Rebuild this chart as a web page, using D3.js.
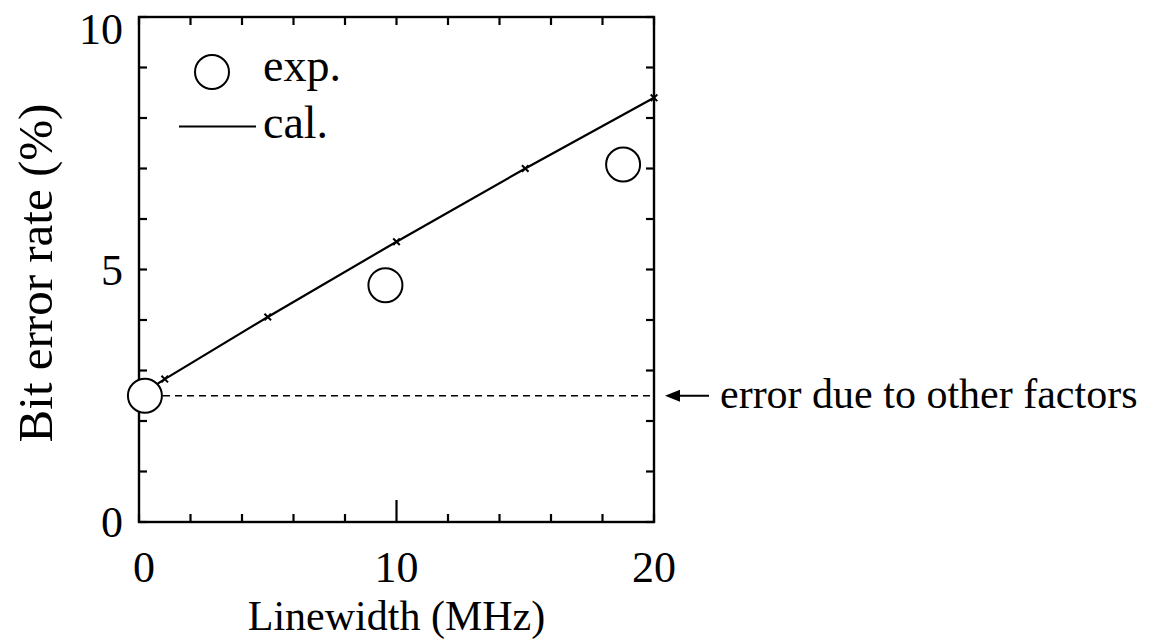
<!DOCTYPE html>
<html>
<head>
<meta charset="utf-8">
<script src="https://cdn.jsdelivr.net/npm/d3@7"></script>
<style>
  html, body { margin: 0; padding: 0; background: #fff; }
  svg { display: block; }
  text { font-family: "Liberation Serif", "Times New Roman", serif; fill: #000; }
</style>
</head>
<body>
<svg id="chart" width="1149" height="639"></svg>
<script>
// Measured bit error rate (%) vs. laser linewidth (MHz)
const expLinewidth = [0.23, 9.57, 18.8];
const expBER = [2.5, 4.69, 7.08];

// Calculated curve
const calLinewidth = [0, 1, 5, 10, 15, 20];
const calBER = [2.5, 2.83, 4.06, 5.55, 7.0, 8.4];

// Floor from error sources other than linewidth
const otherFactorsBER = 2.5;

const xTickLabels = [0, 10, 20];
const yTickLabels = [0, 5, 10];

const svg = d3.select("#chart");
const plotLeft = 139, plotRight = 654, plotTop = 17, plotBottom = 522;

const x = d3.scaleLinear().domain([0, 20]).range([plotLeft, plotRight]);
const y = d3.scaleLinear().domain([0, 10]).range([plotBottom, plotTop]);

// Inward ticks on all four sides
const minorLen = 8;
const frame = svg.append("g");

const xMinor = d3.range(0, 21, 2);
const yMinor = d3.range(0, 11, 1);

frame.selectAll(".xb").data(xMinor).join("line")
  .attr("x1", d => x(d)).attr("x2", d => x(d))
  .attr("y1", plotBottom).attr("y2", d => plotBottom - (d === 10 ? 22 : minorLen))
  .attr("stroke", "#000").attr("stroke-width", 2.2);
frame.selectAll(".xt").data(xMinor).join("line")
  .attr("x1", d => x(d)).attr("x2", d => x(d))
  .attr("y1", plotTop).attr("y2", plotTop + minorLen)
  .attr("stroke", "#000").attr("stroke-width", 2.2);
frame.selectAll(".yl").data(yMinor).join("line")
  .attr("x1", plotLeft).attr("x2", plotLeft + minorLen)
  .attr("y1", d => y(d)).attr("y2", d => y(d))
  .attr("stroke", "#000").attr("stroke-width", 2.2);
frame.selectAll(".yr").data(yMinor).join("line")
  .attr("x1", plotRight).attr("x2", plotRight - minorLen)
  .attr("y1", d => y(d)).attr("y2", d => y(d))
  .attr("stroke", "#000").attr("stroke-width", 2.2);

frame.append("rect")
  .attr("x", plotLeft).attr("y", plotTop)
  .attr("width", plotRight - plotLeft).attr("height", plotBottom - plotTop)
  .attr("fill", "none").attr("stroke", "#000").attr("stroke-width", 2.4);

// Tick labels
svg.selectAll(".xlab").data(xTickLabels).join("text")
  .attr("x", d => x(d) + (d === 0 ? 5 : 0)).attr("y", 582)
  .attr("text-anchor", "middle")
  .attr("font-size", 44)
  .text(d => d);
svg.selectAll(".ylab").data(yTickLabels).join("text")
  .attr("x", plotLeft - 16).attr("y", d => Math.max(y(d) + 15, 44))
  .attr("text-anchor", "end")
  .attr("font-size", 44)
  .text(d => d);

// Axis titles
svg.append("text")
  .attr("x", x(10)).attr("y", 630)
  .attr("text-anchor", "middle")
  .attr("font-size", 42)
  .text("Linewidth (MHz)");
svg.append("text")
  .attr("transform", "translate(52, 273) rotate(-90)")
  .attr("text-anchor", "middle")
  .attr("font-size", 49)
  .text("Bit error rate (%)");

// Dashed floor line
svg.append("line")
  .attr("x1", x(0)).attr("x2", x(20))
  .attr("y1", y(otherFactorsBER)).attr("y2", y(otherFactorsBER))
  .attr("stroke", "#000").attr("stroke-width", 1.6)
  .attr("stroke-dasharray", "7,5");

// Calculated curve
const calData = calLinewidth.map((v, i) => [v, calBER[i]]);
svg.append("path")
  .datum(calData)
  .attr("d", d3.line().x(d => x(d[0])).y(d => y(d[1])))
  .attr("fill", "none").attr("stroke", "#000").attr("stroke-width", 2.2);
svg.selectAll(".calpt").data(calData.slice(1)).join("path")
  .attr("transform", d => `translate(${x(d[0])},${y(d[1])})`)
  .attr("d", d3.symbol(d3.symbolTimes, 30)())
  .attr("fill", "none").attr("stroke", "#000").attr("stroke-width", 2);

// Measured points
const expData = expLinewidth.map((v, i) => [v, expBER[i]]);
svg.selectAll(".exppt").data(expData).join("circle")
  .attr("cx", d => x(d[0])).attr("cy", d => y(d[1]))
  .attr("r", 17)
  .attr("fill", "#fff").attr("stroke", "#000").attr("stroke-width", 2);

// Legend
svg.append("circle")
  .attr("cx", 212).attr("cy", 72).attr("r", 17)
  .attr("fill", "#fff").attr("stroke", "#000").attr("stroke-width", 2);
svg.append("text")
  .attr("x", 263).attr("y", 81)
  .attr("font-size", 46).text("exp.");
svg.append("line")
  .attr("x1", 179).attr("x2", 256)
  .attr("y1", 126.5).attr("y2", 126.5)
  .attr("stroke", "#000").attr("stroke-width", 2);
svg.append("text")
  .attr("x", 263).attr("y", 138)
  .attr("font-size", 46).text("cal.");

// Annotation for the floor line
const ay = y(otherFactorsBER);
svg.append("line")
  .attr("x1", 674).attr("x2", 709)
  .attr("y1", ay).attr("y2", ay)
  .attr("stroke", "#000").attr("stroke-width", 2);
svg.append("path")
  .attr("d", `M665,${ay} L680,${ay - 6} L680,${ay + 6} Z`)
  .attr("fill", "#000");
svg.append("text")
  .attr("x", 720).attr("y", ay + 12)
  .attr("font-size", 42)
  .text("error due to other factors");
</script>
</body>
</html>
